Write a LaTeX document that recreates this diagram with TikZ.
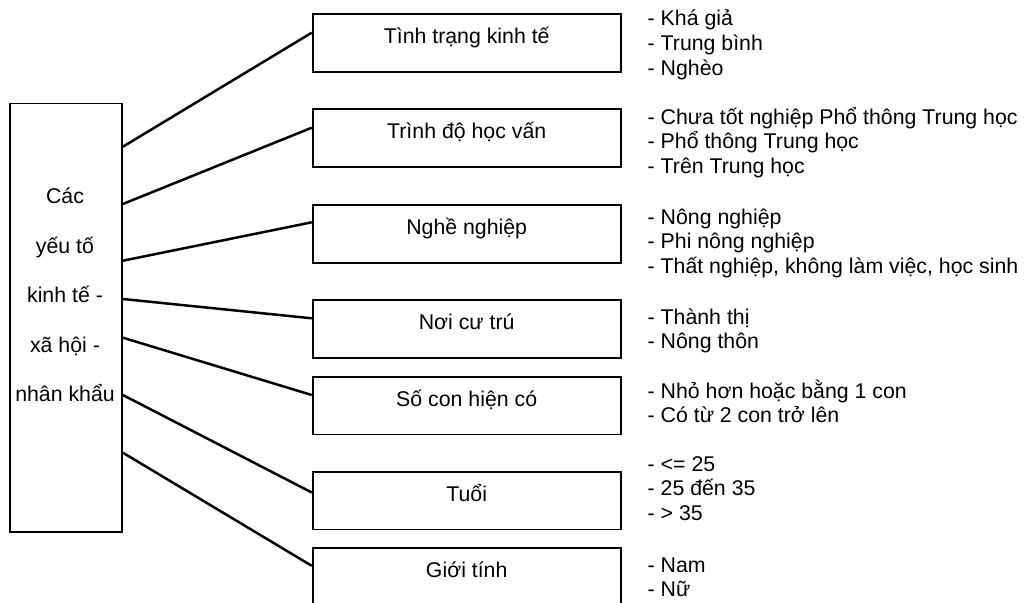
\documentclass[tikz,border=0pt]{standalone}
\usepackage{fontspec}
\setmainfont{Liberation Sans}
\usetikzlibrary{calc}
\begin{document}
\begin{tikzpicture}[x=1pt,y=-1pt,
  bx/.style={draw, line width=1.9pt, minimum width=308pt, minimum height=57.5pt, inner sep=0pt, anchor=north},
  lbox/.style={draw, line width=1.9pt, minimum width=112pt, minimum height=428.5pt, inner sep=0pt, anchor=north west},
  conn/.style={line width=2.5pt},
  txt/.style={inner sep=0pt, font=\fontsize{21.3}{24}\selectfont},
  bt/.style={txt, anchor=base},
  li/.style={txt, anchor=base west}]
\useasboundingbox (0,0) rectangle (1024,602);
% left box
\node[lbox] (L) at (9,102.5) {};
\node[bt] (l1) at (65,203) {Các};
\node[bt] (l2) at (65,253) {yếu tố};
\node[bt] (l3) at (65,302) {kinh tế -};
\node[bt] (l4) at (65,352) {xã hội -};
\node[bt] (l5) at (65,401) {nhân khẩu};
% right boxes
\node[bx] (b1) at (466.7,13.3) {};
\node[bx] (b2) at (466.7,108.3) {};
\node[bx] (b3) at (466.7,204.3) {};
\node[bx] (b4) at (466.7,299.3) {};
\node[bx] (b5) at (466.7,376) {};
\node[bx] (b6) at (466.7,471) {};
\node[bx] (b7) at (466.7,547.3) {};
\node[bt] (t1) at ($(b1.north)+(0,30)$) {Tình trạng kinh tế};
\node[bt] (t2) at ($(b2.north)+(0,30)$) {Trình độ học vấn};
\node[bt] (t3) at ($(b3.north)+(0,30)$) {Nghề nghiệp};
\node[bt] (t4) at ($(b4.north)+(0,30)$) {Nơi cư trú};
\node[bt] (t5) at ($(b5.north)+(0,30)$) {Số con hiện có};
\node[bt] (t6) at ($(b6.north)+(0,30)$) {Tuổi};
\node[bt] (t7) at ($(b7.north)+(0,30)$) {Giới tính};
% connectors
\draw[conn] ($(L.north east)+(0,44.2)$) -- ($(b1.north west)+(0,19.4)$);
\draw[conn] ($(L.north east)+(0,101.5)$) -- ($(b2.north west)+(0,19.4)$);
\draw[conn] ($(L.north east)+(0,158.2)$) -- ($(b3.north west)+(0,18)$);
\draw[conn] ($(L.north east)+(0,196.5)$) -- ($(b4.north west)+(0,19)$);
\draw[conn] ($(L.north east)+(0,235.2)$) -- ($(b5.north west)+(0,19)$);
\draw[conn] ($(L.north east)+(0,292.5)$) -- ($(b6.north west)+(0,21.5)$);
\draw[conn] ($(L.north east)+(0,350.2)$) -- ($(b7.north west)+(0,18.5)$);
% lists
\node[li] (g1a) at (647.5,26) {- Khá giả};
\node[li] (g1b) at (647.5,50.5) {- Trung bình};
\node[li] (g1c) at (647.5,75) {- Nghèo};
\node[li] (g2a) at (647.5,124) {- Chưa tốt nghiệp Phổ thông Trung học};
\node[li] (g2b) at (647.5,148.5) {- Phổ thông Trung học};
\node[li] (g2c) at (647.5,173) {- Trên Trung học};
\node[li] (g3a) at (647.5,224) {- Nông nghiệp};
\node[li] (g3b) at (647.5,248.5) {- Phi nông nghiệp};
\node[li] (g3c) at (647.5,273) {- Thất nghiệp, không làm việc, học sinh};
\node[li] (g4a) at (647.5,324) {- Thành thị};
\node[li] (g4b) at (647.5,348.5) {- Nông thôn};
\node[li] (g5a) at (647.5,398) {- Nhỏ hơn hoặc bằng 1 con};
\node[li] (g5b) at (647.5,422.5) {- Có từ 2 con trở lên};
\node[li] (g6a) at (647.5,471) {- <= 25};
\node[li] (g6b) at (647.5,495.5) {- 25 đến 35};
\node[li] (g6c) at (647.5,520) {- > 35};
\node[li] (g7a) at (647.5,572) {- Nam};
\node[li] (g7b) at (647.5,596.5) {- Nữ};
\end{tikzpicture}
\end{document}
